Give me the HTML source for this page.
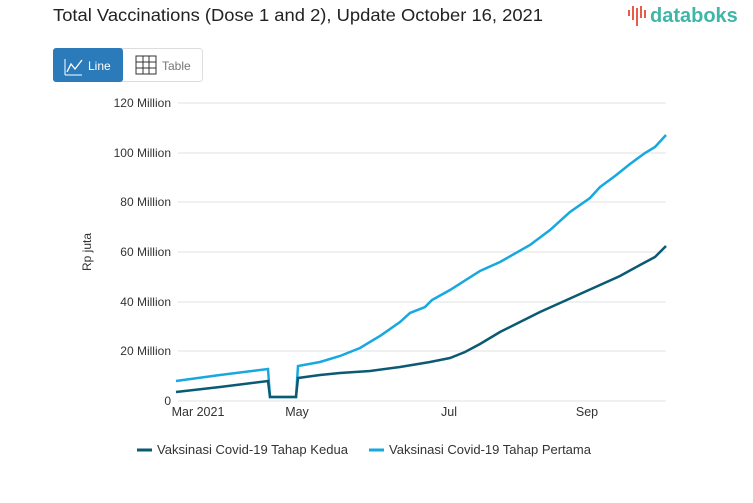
<!DOCTYPE html><html><head><style>body{margin:0;background:#fff;width:753px;height:498px;overflow:hidden;font-family:"Liberation Sans",sans-serif}</style></head><body>
<svg width="753" height="498" xmlns="http://www.w3.org/2000/svg" font-family="Liberation Sans, sans-serif">
<text x="53" y="21" font-size="17.5" fill="#222" textLength="490" lengthAdjust="spacingAndGlyphs">Total Vaccinations (Dose 1 and 2), Update October 16, 2021</text>
<g fill="#e85d4a"><rect x="628" y="10" width="2" height="6"/><rect x="632" y="6" width="2" height="14"/><rect x="636" y="8" width="2" height="18"/><rect x="640" y="6" width="2" height="12"/><rect x="644" y="10" width="2" height="8"/></g>
<text x="650" y="22" font-size="20" font-weight="bold" fill="#3fb6a8">databoks</text>
<rect x="53.5" y="48.5" width="149" height="33" rx="3" fill="#fff" stroke="#ddd"/>
<rect x="53" y="48" width="70" height="34" rx="3" fill="#2b7bbb"/>
<polyline points="65,75 65,59" stroke="#fff" fill="none"/>
<polyline points="65,75 82,75" stroke="#fff" fill="none"/>
<polyline points="67,72 71,64 75,69 82,60" stroke="#fff" fill="none" stroke-width="1.3"/>
<text x="88" y="70" font-size="12" fill="#fff">Line</text>
<g stroke="#333" fill="none"><rect x="136" y="56" width="20" height="18"/><line x1="136" y1="62" x2="156" y2="62"/><line x1="136" y1="68" x2="156" y2="68"/><line x1="143" y1="56" x2="143" y2="74"/><line x1="149" y1="56" x2="149" y2="74"/></g>
<text x="162" y="70" font-size="12" fill="#777">Table</text>
<g stroke="#e0e0e0"><line x1="178" y1="103" x2="666" y2="103"/><line x1="178" y1="153" x2="666" y2="153"/><line x1="178" y1="202" x2="666" y2="202"/><line x1="178" y1="252" x2="666" y2="252"/><line x1="178" y1="302" x2="666" y2="302"/><line x1="178" y1="351" x2="666" y2="351"/><line x1="178" y1="401" x2="666" y2="401"/></g>
<g font-size="12" fill="#333" text-anchor="end"><text x="171" y="107">120 Million</text><text x="171" y="157">100 Million</text><text x="171" y="206">80 Million</text><text x="171" y="256">60 Million</text><text x="171" y="306">40 Million</text><text x="171" y="355">20 Million</text><text x="171" y="405">0</text></g>
<text transform="translate(91,252) rotate(-90)" font-size="12" fill="#333" text-anchor="middle">Rp juta</text>
<g font-size="12.5" fill="#333" text-anchor="middle"><text x="198" y="416">Mar 2021</text><text x="297" y="416">May</text><text x="449" y="416">Jul</text><text x="587" y="416">Sep</text></g>
<polyline fill="none" stroke="#17a8e0" stroke-width="2.5" points="176,381 220,375 268,369 270,397 296,397 298,366 320,362 340,356 360,348 380,336 400,322 410,313 425,307 432,300 450,290 480,271 500,262 530,245 550,230 570,212 590,198 600,187 615,176 630,164 645,153 655,147 666,135"/>
<polyline fill="none" stroke="#0b5a73" stroke-width="2.5" points="176,392 220,387 268,381 270,397 296,397 298,378 320,375 340,373 370,371 400,367 430,362 450,358 465,352 480,344 500,332 520,322 540,312 560,303 580,294 600,285 620,276 640,265 655,257 666,246"/>
<line x1="137" y1="450" x2="152" y2="450" stroke="#0b5a73" stroke-width="3"/>
<text x="157" y="454" font-size="12.5" fill="#333" textLength="191" lengthAdjust="spacingAndGlyphs">Vaksinasi Covid-19 Tahap Kedua</text>
<line x1="369" y1="450" x2="384" y2="450" stroke="#17a8e0" stroke-width="3"/>
<text x="389" y="454" font-size="12.5" fill="#333" textLength="202" lengthAdjust="spacingAndGlyphs">Vaksinasi Covid-19 Tahap Pertama</text>
</svg></body></html>
